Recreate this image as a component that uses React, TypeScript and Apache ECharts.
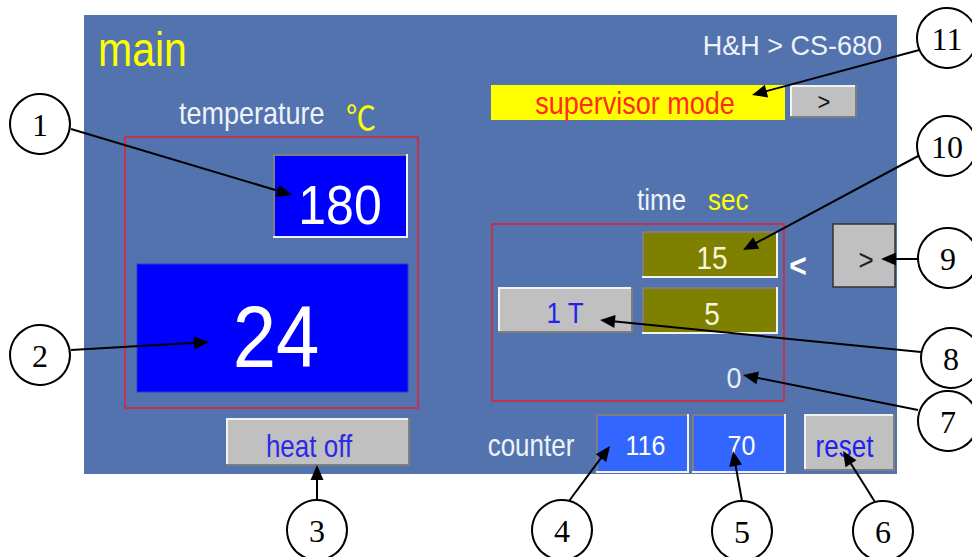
import React, { useEffect, useRef } from "react";
import * as echarts from "echarts";

// ---- values shown on the panel ----
const titleText = ["main", "H&H > CS-680"];
const modeText = ["supervisor mode"];
const setTemperature = [180];
const actualTemperature = [24];
const timeValues = [15, 5];
const timeCounter = [0];
const counterValues = [116, 70];
const buttonLabels = ["heat off", "1 T", "reset", ">", ">"];
const annotationLabels = ["1", "2", "3", "4", "5", "6", "7", "8", "9", "10", "11"];

const SANS = "'Liberation Sans', Arial, sans-serif";
const SERIF = "'Liberation Serif', 'Times New Roman', serif";

function txt(text: string, x: number, y: number, size: number, fill: string, align = "center", family = SANS, sy = 1.12, weight = "normal") {
  return {
    type: "text",
    x,
    y,
    scaleY: sy,
    z: 10,
    style: { text, fill, fontSize: size, fontFamily: family, fontWeight: weight, align, verticalAlign: "middle" },
  };
}

function bevelBox(x: number, y: number, w: number, h: number, fill: string, raised: boolean) {
  const light = "#F2F2F2";
  const dark = "#7E7E7E";
  const tl = raised ? light : dark;
  const br = raised ? dark : light;
  return [
    { type: "rect", z: 5, shape: { x, y, width: w, height: h }, style: { fill } },
    {
      type: "polyline", z: 6,
      shape: { points: [[x + 1, y + h], [x + 1, y + 1], [x + w, y + 1]] },
      style: { stroke: tl, lineWidth: 2, fill: null },
    },
    {
      type: "polyline", z: 6,
      shape: { points: [[x + w - 1, y], [x + w - 1, y + h - 1], [x, y + h - 1]] },
      style: { stroke: br, lineWidth: 2, fill: null },
    },
  ];
}

function arrow(x1: number, y1: number, x2: number, y2: number) {
  const dx = x2 - x1;
  const dy = y2 - y1;
  const len = Math.sqrt(dx * dx + dy * dy);
  const ux = dx / len;
  const uy = dy / len;
  const L = 15;
  const W = 6.5;
  const bx = x2 - ux * L;
  const by = y2 - uy * L;
  return [
    { type: "line", z: 20, shape: { x1, y1, x2: bx + ux * 2, y2: by + uy * 2 }, style: { stroke: "#000", lineWidth: 2 } },
    {
      type: "polygon", z: 21,
      shape: { points: [[x2, y2], [bx - uy * W, by + ux * W], [bx + uy * W, by - ux * W]] },
      style: { fill: "#000" },
    },
  ];
}

function bubble(label: string, cx: number, cy: number) {
  return [
    { type: "circle", z: 22, shape: { cx, cy, r: 30 }, style: { fill: "#fff", stroke: "#000", lineWidth: 2 } },
    { ...txt(label, cx, cy + 1, 32, "#000", "center", SERIF, 1), z: 23 },
  ];
}

export default function App() {
  const ref = useRef<HTMLDivElement>(null);
  useEffect(() => {
    document.body.style.margin = "0";
    const chart = echarts.init(ref.current!, null, { renderer: "svg" });
    const panel = "#5373AF";
    const els: any[] = [];
    els.push({ type: "rect", z: 0, shape: { x: 0, y: 0, width: 972, height: 557 }, style: { fill: "#fff" } });
    els.push({ type: "rect", z: 1, shape: { x: 84, y: 15, width: 813, height: 459 }, style: { fill: panel } });

    // titles
    els.push(txt(titleText[0], 98, 49, 41, "#FFFF00", "left", SANS, 1.18));
    els.push(txt(titleText[1], 882, 45, 27, "#EEF2FA", "right", SANS, 1.05));
    els.push(txt("temperature", 179, 113, 27, "#EEF3FA", "left", SANS, 1.15));
    els.push(txt("℃", 361, 115, 30, "#FFFF00", "center", "'Noto Sans CJK SC', sans-serif", 1.1));

    // supervisor
    els.push({ type: "rect", z: 5, shape: { x: 491, y: 85, width: 294, height: 35 }, style: { fill: "#FFFF00" } });
    els.push(txt(modeText[0], 635, 103, 27, "#FF2A1A", "center", SANS, 1.15));
    els.push(...bevelBox(790, 85, 67, 33, "#C0C0C0", true));
    els.push(txt(buttonLabels[3], 824, 102, 22, "#111"));

    // left red frame
    els.push({ type: "rect", z: 4, shape: { x: 125, y: 137, width: 293, height: 271 }, style: { fill: null, stroke: "#E4202A", lineWidth: 1.5 } });
    els.push(...bevelBox(273, 154, 135, 84, "#0000FF", false));
    els.push(txt(String(setTemperature[0]), 340, 204, 50, "#FFFFFF"));
    els.push({ type: "rect", z: 5, shape: { x: 137, y: 264, width: 271, height: 128 }, style: { fill: "#0000FF", stroke: "#2838D8", lineWidth: 1 } });
    els.push(txt(String(actualTemperature[0]), 276, 337, 78, "#FFFFFF"));

    // heat off
    els.push(...bevelBox(226, 418, 184, 48, "#C0C0C0", true));
    els.push(txt(buttonLabels[0], 309, 446, 26, "#2A2AE8", "center", SANS, 1.18));

    // time area
    els.push(txt("time", 637, 200, 26, "#EEF3FA", "left", SANS, 1.15));
    els.push(txt("sec", 708, 200, 26, "#FFFF00", "left", SANS, 1.15));
    els.push({ type: "rect", z: 4, shape: { x: 492, y: 224, width: 292, height: 177 }, style: { fill: null, stroke: "#E4202A", lineWidth: 1.5 } });
    els.push(...bevelBox(642, 231, 136, 47, "#808000", false));
    els.push(txt(String(timeValues[0]), 712, 258, 28, "#F6F6DA"));
    els.push(...bevelBox(642, 287, 136, 47, "#808000", false));
    els.push(txt(String(timeValues[1]), 712, 314, 28, "#F6F6DA"));
    els.push(...bevelBox(498, 287, 135, 46, "#C0C0C0", true));
    els.push(txt(buttonLabels[1], 565, 313, 26, "#2222EE"));
    els.push(txt("<", 798, 265, 30, "#FFFFFF", "center", SANS, 1.1, "bold"));
    els.push(txt(String(timeCounter[0]), 734, 377, 27, "#E8EEF8"));

    // > box (9)
    els.push({ type: "rect", z: 5, shape: { x: 833, y: 224, width: 62, height: 63 }, style: { fill: "#C0C0C0", stroke: "#333", lineWidth: 1.5 } });
    els.push(txt(buttonLabels[4], 866, 260, 26, "#202020"));

    // counter
    els.push(txt("counter", 531, 445, 26, "#EEF3FA", "center", SANS, 1.18));
    els.push(...bevelBox(596, 414, 93, 59, "#3366FF", false));
    els.push(txt(String(counterValues[0]), 645.5, 446, 25, "#FFFFFF"));
    els.push(...bevelBox(692, 414, 94, 59, "#3366FF", false));
    els.push(txt(String(counterValues[1]), 741.5, 446, 25, "#FFFFFF"));
    els.push(...bevelBox(804, 414, 91, 57, "#C0C0C0", true));
    els.push(txt(buttonLabels[2], 844.5, 446, 26, "#2020F0", "center", SANS, 1.18));

    // annotations: [label index, circle cx, cy, line start x, y, tip x, y]
    const notes: [number, number, number, number, number, number, number][] = [
      [0, 40, 124, 71, 129, 292, 195],
      [1, 40, 355, 71, 350, 209, 342],
      [2, 317, 530, 317, 500, 317, 465],
      [3, 562, 530, 569, 501, 610, 446],
      [4, 742, 531, 742, 501, 733, 451],
      [5, 883, 531, 875, 502, 843, 451],
      [6, 948, 421, 918, 410, 743, 375],
      [7, 951, 358, 921, 352, 600, 320],
      [8, 948, 258, 918, 259, 881, 259],
      [9, 947, 146, 920, 155, 743, 250],
      [10, 947, 38, 923, 49, 752, 95],
    ];
    for (const n of notes) {
      els.push(...arrow(n[3], n[4], n[5], n[6]));
      els.push(...bubble(annotationLabels[n[0]], n[1], n[2]));
    }

    chart.setOption({ animation: false, graphic: { elements: els } });
    return () => chart.dispose();
  }, []);
  return <div ref={ref} style={{ width: 972, height: 557 }} />;
}
